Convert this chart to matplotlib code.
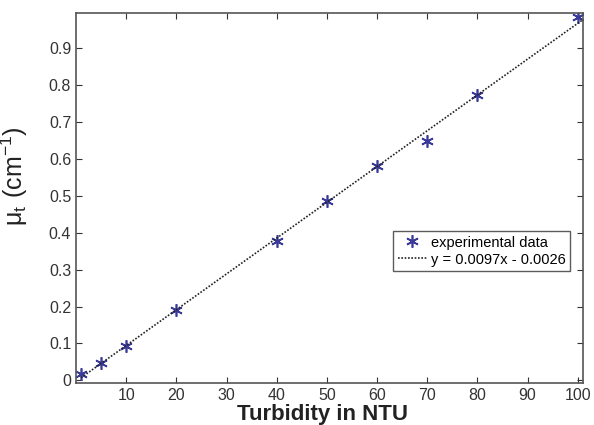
import numpy as np
import matplotlib
matplotlib.use("Agg")
import matplotlib.pyplot as plt

plt.rcParams['font.family'] = ['Liberation Sans', 'DejaVu Sans']

turbidity = [1, 5, 10, 20, 40, 50, 60, 70, 80, 100]
mu_t = [0.018, 0.047, 0.092, 0.19, 0.378, 0.486, 0.582, 0.649, 0.772, 0.985]
slope, intercept = 0.0097, -0.0026
fit_x = np.array([1, 101])

fig = plt.figure(figsize=(5.94, 4.25), dpi=100)
ax = fig.add_axes([0.128, 0.099, 0.853, 0.870])

ax.plot(turbidity, mu_t, linestyle='none', marker=(6, 2, 0), markersize=9,
        markeredgewidth=1.2, color='#3a3a9a', label='experimental data')
ax.plot(fit_x, slope * fit_x + intercept, linestyle=(0, (1, 1)), color='#222222',
        linewidth=1.2, label='y = 0.0097x - 0.0026')

ax.set_xlim(0, 101)
ax.set_ylim(-0.007, 0.995)
ax.set_xticks(range(10, 101, 10))
ax.set_yticks(np.arange(0, 0.95, 0.1))
ax.set_yticklabels(['0'] + ['%.1f' % v for v in np.arange(0.1, 0.95, 0.1)])
ax.tick_params(direction='in', top=True, right=True, length=4, labelsize=11.5,
               colors='#333333', labelcolor='#333333')
for s in ax.spines.values():
    s.set_color('#555555')
    s.set_linewidth(1.2)

ax.set_xlabel('Turbidity in NTU', fontsize=16, fontweight='bold', color='#222222')
ax.xaxis.set_label_coords(0.487, -0.057)
ax.set_ylabel(r'$\mathregular{\mu_t\ (cm^{-1})}$', fontsize=18, color='#222222')
ax.yaxis.set_label_coords(-0.09, 0.56)

leg = ax.legend(loc='upper right', bbox_to_anchor=(0.99, 0.43), fontsize=10.5,
                fancybox=False, edgecolor='#333333', handlelength=2.0,
                handletextpad=0.3, borderpad=0.3, labelspacing=0.2)
leg.get_frame().set_linewidth(1.0)

fig.savefig('out.png', dpi=100)
